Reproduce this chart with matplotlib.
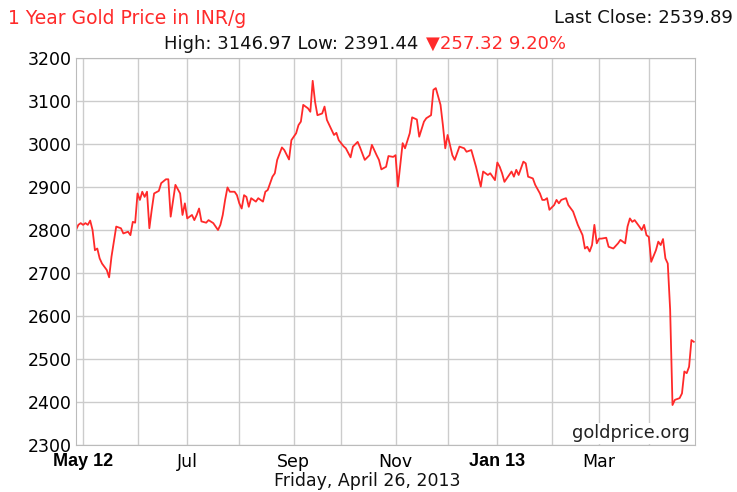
import numpy as np
import matplotlib
matplotlib.use("Agg")
import matplotlib.pyplot as plt

# trading days counted from 2012-04-26, and gold price in INR/g
start = "2012-04-26"
day = [0, 1, 2, 3, 4, 5, 6, 7, 8, 9, 10, 11, 13, 14, 15, 17, 19, 20, 22, 23,
       24, 25, 26, 27, 28, 29, 30, 31, 32, 33, 35, 36, 38, 39, 40, 42, 44, 45, 46, 47,
       49, 50, 51, 52, 53, 55, 56, 58, 60, 61, 62, 63, 64, 65, 67, 68, 69, 70, 71, 72,
       73, 74, 76, 77, 79, 80, 81, 83, 84, 85, 87, 88, 90, 91, 93, 94, 95, 96, 98, 99,
       100, 101, 102, 104, 105, 106, 108, 109, 110, 111, 113, 114, 116, 117, 119, 120, 122, 124, 125, 127,
       128, 129, 131, 132, 134, 135, 136, 138, 139, 141, 142, 144, 145, 147, 148, 150, 151, 152, 154, 155,
       156, 157, 159, 160, 162, 164, 165, 167, 169, 171, 172, 174, 175, 177, 178, 179, 180, 181, 183, 184,
       185, 186, 187, 189, 190, 191, 193, 194, 196, 197, 198, 199, 200, 202, 203, 204, 205, 207, 208, 210,
       212, 214, 215, 216, 217, 218, 219, 220, 221, 222, 224, 225, 227, 229, 230, 232, 233, 234, 235, 236,
       238, 239, 240, 241, 242, 243, 245, 246, 247, 248, 249, 250, 251, 252, 253, 255, 256, 257, 258, 259,
       260, 261]
price = [2800, 2812, 2816, 2812, 2816, 2812, 2822, 2800, 2753, 2757, 2734, 2722, 2707, 2690, 2738, 2808, 2804, 2792, 2796, 2788,
         2819, 2817, 2885, 2870, 2889, 2877, 2889, 2804, 2847, 2885, 2891, 2909, 2918, 2918, 2831, 2905, 2885, 2835, 2862, 2827,
         2835, 2823, 2835, 2850, 2820, 2817, 2823, 2816, 2800, 2812, 2835, 2870, 2899, 2889, 2889, 2881, 2862, 2850, 2881, 2877,
         2854, 2874, 2866, 2874, 2866, 2889, 2893, 2924, 2932, 2963, 2992, 2986, 2964, 3009, 3025, 3044, 3052, 3091, 3083, 3075,
         3147, 3098, 3067, 3071, 3087, 3056, 3033, 3021, 3026, 3009, 2995, 2990, 2969, 2994, 3005, 2992, 2963, 2974, 2998, 2974,
         2963, 2941, 2947, 2972, 2970, 2974, 2901, 3002, 2990, 3025, 3062, 3057, 3017, 3052, 3060, 3067, 3126, 3130, 3091, 3044,
         2990, 3021, 2974, 2963, 2994, 2990, 2982, 2986, 2947, 2901, 2936, 2928, 2932, 2916, 2957, 2947, 2932, 2912, 2928, 2936,
         2924, 2940, 2928, 2959, 2955, 2924, 2920, 2905, 2885, 2870, 2870, 2874, 2847, 2858, 2870, 2862, 2870, 2874, 2858, 2843,
         2812, 2788, 2757, 2761, 2750, 2765, 2812, 2769, 2780, 2780, 2782, 2761, 2757, 2769, 2777, 2769, 2808, 2827, 2819, 2823,
         2808, 2800, 2812, 2788, 2784, 2726, 2753, 2773, 2765, 2779, 2734, 2722, 2615, 2393, 2405, 2409, 2420, 2471, 2467, 2482,
         2544, 2540]

month_starts = ["2012-05-01", "2012-06-01", "2012-07-01", "2012-08-01", "2012-09-01", "2012-10-01",
                "2012-11-01", "2012-12-01", "2013-01-01", "2013-02-01", "2013-03-01", "2013-04-01"]
tick_labels = ["May 12", "", "Jul", "", "Sep", "", "Nov", "", "Jan 13", "", "Mar", ""]

red = "#ff2a2a"

fig = plt.figure(figsize=(7.37, 4.92), dpi=100)
ax = fig.add_axes([0.1031, 0.0955, 0.8399, 0.7866])

ax.plot(day, price, color=red, lw=1.3)

month_idx = np.busday_count(start, month_starts)
ax.set_xticks(month_idx)
ax.set_xticklabels(tick_labels)
ax.set_xlim(0, 261.5)
ax.set_ylim(2300, 3200)
ax.set_yticks(np.arange(2300, 3201, 100))
ax.grid(True, color="#cccccc", lw=1)
ax.set_axisbelow(True)
for s in ax.spines.values():
    s.set_color("#bbbbbb")
ax.tick_params(length=0, labelsize=12.5, pad=3)
ax.tick_params(axis="x", pad=6)
for lbl in ax.get_xticklabels():
    if lbl.get_text() in ("May 12", "Jan 13"):
        lbl.set_fontweight("bold")
        lbl.set_family(["Liberation Sans Narrow", "Liberation Sans"])
        lbl.set_fontsize(13)

ax.text(0.992, 0.03, "goldprice.org", transform=ax.transAxes, ha="right", va="center",
        fontsize=12.8, color="#222222", bbox=dict(facecolor="white", edgecolor="none", pad=1))

fig.text(0.011, 0.963, "1 Year Gold Price in INR/g", color=red, fontsize=13.5, va="center")
fig.text(0.995, 0.963, "Last Close: 2539.89", color="#111111", fontsize=13, va="center", ha="right")
fig.text(0.576, 0.911, "High: 3146.97 Low: 2391.44 ", color="#111111", fontsize=13, va="center", ha="right")
fig.text(0.578, 0.911, "\u25bc257.32 9.20%", color=red, fontsize=13, va="center", ha="left")
fig.text(0.498, 0.022, "Friday, April 26, 2013", color="#111111", fontsize=12.5, va="center", ha="center")

fig.savefig("out.png", dpi=100)
